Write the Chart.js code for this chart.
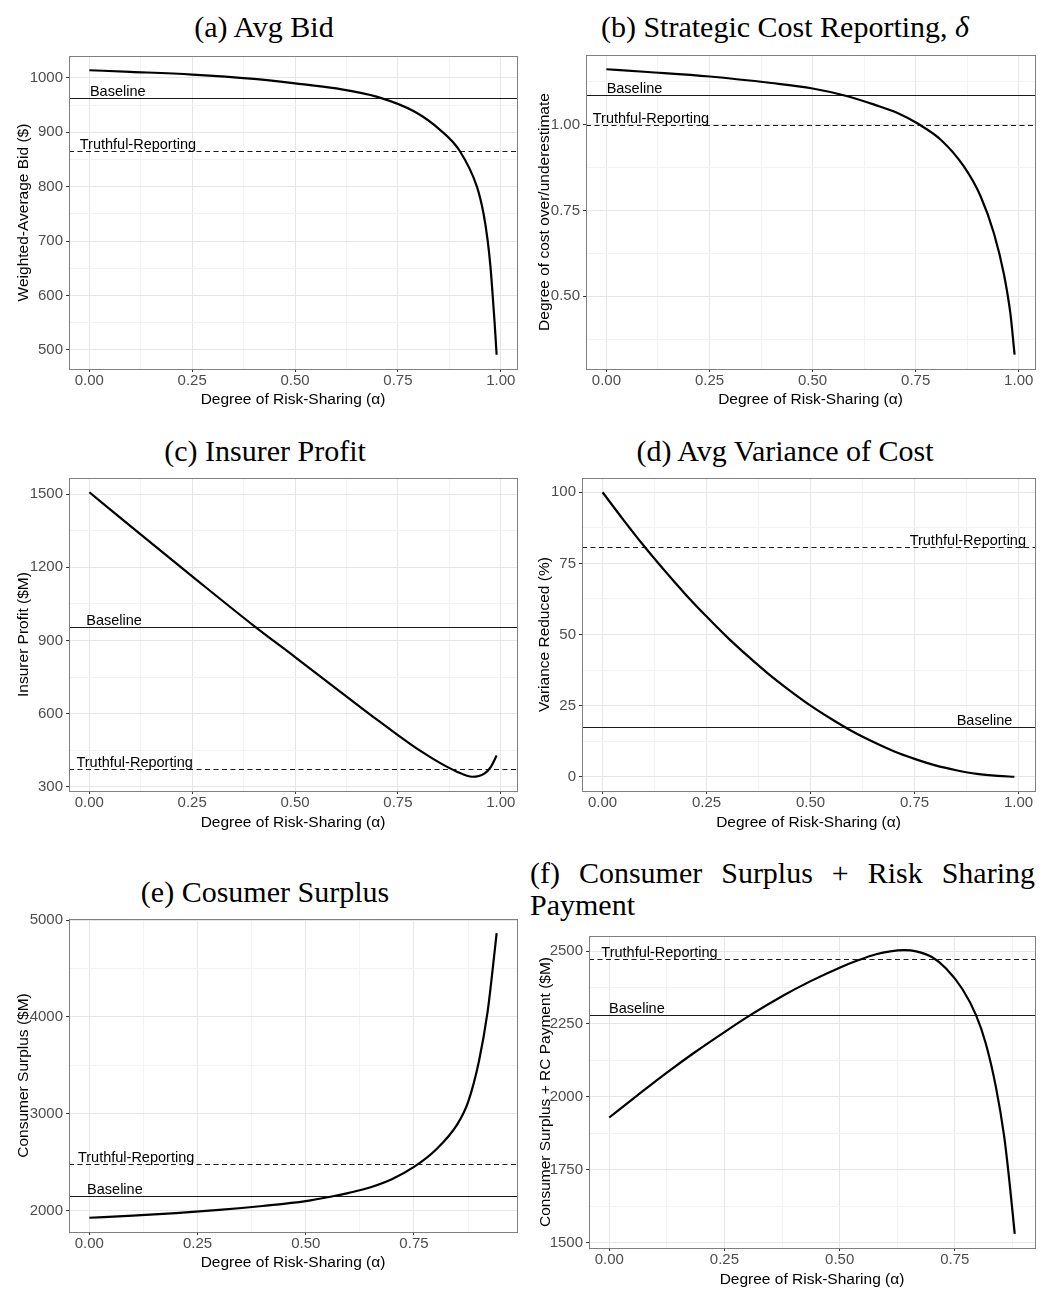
<!DOCTYPE html>
<html lang="en">
<head>
<meta charset="utf-8">
<title>Risk-sharing simulations</title>
<script src="https://cdn.jsdelivr.net/npm/chart.js@4.4.1/dist/chart.umd.min.js"></script>
<style>
  body { margin: 0; width: 1047px; height: 1290px; position: relative; overflow: hidden; background: #fff; }
  .ttl { position: absolute; font-family: "Liberation Serif", "DejaVu Serif", serif; font-size: 30px; line-height: 30px; color: #000; white-space: nowrap; text-align: center; width: 500px; }
  .ttl.wide { width: 505px; text-align: justify; text-align-last: justify; }
  .ttl.left { text-align: left; }
  canvas { position: absolute; }
</style>
</head>
<body>
<div class="ttl" style="left:14px;top:12px">(a) Avg Bid</div>
<div class="ttl" style="left:535px;top:12px">(b) Strategic Cost Reporting, <i>δ</i></div>
<div class="ttl" style="left:15px;top:436px">(c) Insurer Profit</div>
<div class="ttl" style="left:535px;top:436px">(d) Avg Variance of Cost</div>
<div class="ttl" style="left:15px;top:877px">(e) Cosumer Surplus</div>
<div class="ttl wide" style="left:530px;top:858px">(f) Consumer Surplus + Risk Sharing</div>
<div class="ttl left" style="left:530px;top:890px">Payment</div>

<script>
// (a) weighted-average bid
const alphaBid = [0, 0.1, 0.25, 0.4, 0.5, 0.6, 0.7, 0.79, 0.853, 0.9, 0.942, 0.958, 0.968, 0.975, 0.98, 0.985, 0.99];
const avgBid = [1014, 1011, 1006, 998, 990, 980.5, 965, 938, 904, 866, 800, 751, 702, 653, 604, 551, 491];

// (b) strategic cost reporting delta
const alphaDelta = [0, 0.1, 0.25, 0.4, 0.5, 0.58, 0.65, 0.706, 0.755, 0.811, 0.867, 0.908, 0.94, 0.964, 0.98, 0.99];
const delta = [1.161, 1.153, 1.140, 1.121, 1.105, 1.084, 1.058, 1.034, 1.003, 0.956, 0.878, 0.790, 0.683, 0.565, 0.448, 0.330];

// (c) insurer profit, $M
const alphaProfit = [0, 0.1, 0.25, 0.4, 0.5, 0.6, 0.7, 0.754, 0.802, 0.851, 0.891, 0.931, 0.96, 0.976, 0.99];
const insurerProfit = [1508, 1369, 1163, 960, 832, 703, 574, 507, 450, 399, 364, 341, 354, 382, 428];

// (d) variance reduced, %
const alphaVar = [0, 0.05, 0.1, 0.15, 0.2, 0.25, 0.3, 0.35, 0.4, 0.45, 0.5, 0.55, 0.6, 0.65, 0.7, 0.75, 0.8, 0.85, 0.9, 0.95, 0.99];
const varianceReduced = [100, 90.3, 81, 72.3, 64, 56.3, 49, 42.3, 36, 30.3, 25, 20.3, 16, 12.3, 9, 6.3, 4, 2.3, 1, 0.3, 0];

// (e) consumer surplus, $M
const alphaCS = [0, 0.1, 0.2, 0.3, 0.4, 0.5, 0.56, 0.6, 0.65, 0.7, 0.75, 0.8, 0.85, 0.875, 0.9, 0.92, 0.93, 0.941];
const consumerSurplus = [1924, 1946, 1972, 2005, 2046, 2096, 2144, 2182, 2240, 2325, 2450, 2625, 2890, 3120, 3540, 4050, 4420, 4866];

// (f) consumer surplus + risk-sharing payment, $M
const alphaCSRC = [0, 0.061, 0.125, 0.185, 0.25, 0.306, 0.375, 0.436, 0.5, 0.543, 0.579, 0.61, 0.64, 0.666, 0.702, 0.731, 0.767, 0.796, 0.817, 0.839, 0.857, 0.868, 0.88];
const csPlusRC = [1929, 2005, 2083, 2152, 2222, 2280, 2345, 2396, 2443, 2470, 2489, 2499, 2503, 2499, 2478, 2440, 2368, 2280, 2184, 2035, 1865, 1717, 1530];

// horizontal reference levels, one per panel (a..f)
const baselineLevel = [963, 1.085, 955, 17.5, 2148, 2282];
const truthfulLevel = [865, 1.0, 374, 80.9, 2475, 2472];

const xTitle = 'Degree of Risk-Sharing (α)';

Chart.defaults.font.family = '"Liberation Sans", Arial, sans-serif';

const panels = [
  { x: alphaBid, y: avgBid, yTitle: 'Weighted-Average Bid ($)', yStep: 100, yDec: 0,
    box: { l: 69, t: 56, r: 517, b: 369 }, left: 0, yTitleX: 23, xTitleY: 400, baseAt: 0.069, truthAt: 0.118 },
  { x: alphaDelta, y: delta, yTitle: 'Degree of cost over/underestimate', yStep: 0.25, yDec: 2,
    box: { l: 586, t: 55, r: 1035, b: 369 }, left: 527, yTitleX: 544, xTitleY: 400, baseAt: 0.068, truthAt: 0.108 },
  { x: alphaProfit, y: insurerProfit, yTitle: 'Insurer Profit ($M)', yStep: 300, yDec: 0,
    box: { l: 69, t: 478, r: 517, b: 791 }, left: 0, yTitleX: 23, xTitleY: 823, baseAt: 0.06, truthAt: 0.11 },
  { x: alphaVar, y: varianceReduced, yTitle: 'Variance Reduced (%)', yStep: 25, yDec: 0,
    box: { l: 582, t: 478, r: 1035, b: 791 }, left: 527, yTitleX: 544, xTitleY: 823, baseAt: 0.918, truthAt: 0.878 },
  { x: alphaCS, y: consumerSurplus, yTitle: 'Consumer Surplus ($M)', yStep: 1000, yDec: 0,
    box: { l: 69, t: 919, r: 517, b: 1232 }, left: 0, yTitleX: 23, xTitleY: 1263, baseAt: 0.059, truthAt: 0.108 },
  { x: alphaCSRC, y: csPlusRC, yTitle: 'Consumer Surplus + RC Payment ($M)', yStep: 250, yDec: 0,
    box: { l: 589, t: 936, r: 1035, b: 1248 }, left: 527, yTitleX: 545, xTitleY: 1280, baseAt: 0.06, truthAt: 0.109 }
];

// ggplot-style 5% expansion around the data
function expand(vals) {
  const lo = Math.min(...vals), hi = Math.max(...vals), pad = (hi - lo) * 0.05;
  return [lo - pad, hi + pad];
}

function axis(dir, range, step, dec, title, titlePad, size) {
  const minor = step / 2;
  const major = v => Math.abs(v / step - Math.round(v / step)) < 1e-6;
  const isX = dir === 'x';
  return {
    type: 'linear',
    position: isX ? 'bottom' : 'left',
    min: range[0],
    max: range[1],
    // major + minor breaks, every half step inside the range
    afterBuildTicks: s => {
      const ticks = [];
      for (let k = Math.ceil(s.min / minor - 1e-9); k * minor <= s.max + 1e-9; k++) {
        ticks.push({ value: k * minor });
      }
      s.ticks = ticks;
    },
    afterFit: s => { if (isX) s.height = size; else s.width = size; },
    border: { display: false },
    grid: {
      color: c => major(c.tick.value) ? '#e6e6e6' : '#f3f3f3',
      lineWidth: 1,
      drawTicks: true,
      tickLength: 3,
      tickColor: c => major(c.tick.value) ? '#333333' : 'rgba(0,0,0,0)'
    },
    ticks: {
      autoSkip: false,
      maxRotation: 0,
      padding: isX ? 0 : 3,
      color: '#4d4d4d',
      font: { size: 15 },
      callback: v => major(v) ? v.toFixed(dec) : ''
    },
    title: {
      display: true,
      text: title,
      color: '#000',
      font: { size: 15.5 },
      padding: isX ? { top: 0, bottom: titlePad } : { top: titlePad, bottom: 0 }
    }
  };
}

// panel border plus the Baseline / Truthful-Reporting lines with their labels
function frame(refs) {
  return {
    id: 'frame',
    beforeDatasetsDraw(chart) {
      const { ctx, chartArea: a, scales: { x, y } } = chart;
      ctx.save();
      refs.forEach(r => {
        const py = Math.round(y.getPixelForValue(r.value)) + 0.5;
        ctx.beginPath();
        ctx.setLineDash(r.dash);
        ctx.lineWidth = 1.1;
        ctx.strokeStyle = '#1a1a1a';
        ctx.moveTo(a.left, py);
        ctx.lineTo(a.right, py);
        ctx.stroke();
        ctx.setLineDash([]);
        ctx.font = '14.5px "Liberation Sans", Arial, sans-serif';
        ctx.fillStyle = '#000';
        ctx.textAlign = 'center';
        ctx.textBaseline = 'alphabetic';
        ctx.fillText(r.text, x.getPixelForValue(r.at), py - 3);
      });
      ctx.restore();
    },
    afterDraw(chart) {
      const { ctx, chartArea: a } = chart;
      ctx.save();
      ctx.strokeStyle = '#808080';
      ctx.lineWidth = 1;
      ctx.strokeRect(Math.round(a.left) + 0.5, Math.round(a.top) + 0.5,
        Math.round(a.right - a.left), Math.round(a.bottom - a.top));
      ctx.restore();
    }
  };
}

panels.forEach((p, i) => {
  const cLeft = p.left, cTop = p.box.t - 14, cRight = p.box.r + 8, cBottom = p.xTitleY + 10;
  const canvas = document.createElement('canvas');
  canvas.width = cRight - cLeft;
  canvas.height = cBottom - cTop;
  canvas.style.left = cLeft + 'px';
  canvas.style.top = cTop + 'px';
  document.body.appendChild(canvas);

  const xRange = expand(p.x);
  const yRange = expand([...p.y, baselineLevel[i], truthfulLevel[i]]);

  new Chart(canvas, {
    type: 'line',
    data: {
      datasets: [{
        data: p.x.map((a, k) => ({ x: a, y: p.y[k] })),
        borderColor: '#000',
        borderWidth: 2.2,
        pointRadius: 0,
        fill: false,
        cubicInterpolationMode: 'monotone'
      }]
    },
    options: {
      responsive: false,
      animation: false,
      devicePixelRatio: 1,
      layout: { padding: { top: p.box.t - cTop, right: cRight - p.box.r, left: 0, bottom: 0 } },
      plugins: { legend: { display: false }, tooltip: { enabled: false } },
      scales: {
        x: axis('x', xRange, 0.25, 2, xTitle, cBottom - p.xTitleY - 9, cBottom - p.box.b),
        y: axis('y', yRange, p.yStep, p.yDec, p.yTitle, p.yTitleX - cLeft - 9, p.box.l - cLeft)
      }
    },
    plugins: [frame([
      { value: baselineLevel[i], text: 'Baseline', at: p.baseAt, dash: [] },
      { value: truthfulLevel[i], text: 'Truthful-Reporting', at: p.truthAt, dash: [5, 3.5] }
    ])]
  });
});
</script>
</body>
</html>
